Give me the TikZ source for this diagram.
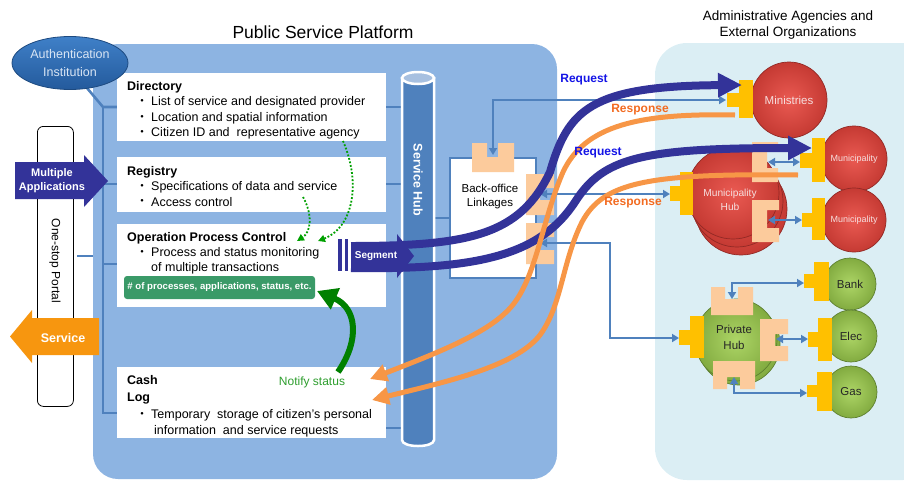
\documentclass[tikz,border=0pt]{standalone}
\usepackage{fontspec}
\setmainfont{Liberation Sans}
\newfontfamily\cjkfont{Noto Sans CJK JP}
\usetikzlibrary{arrows.meta,shapes.geometric}
\definecolor{platbg}{HTML}{8DB4E2}
\definecolor{extbg}{HTML}{DBEEF4}
\definecolor{connblue}{HTML}{4F81BD}
\definecolor{dblue}{HTML}{333399}
\definecolor{orng}{HTML}{F79646}
\definecolor{srvorange}{HTML}{F7960F}
\definecolor{plug}{HTML}{FFC000}
\definecolor{peach}{HTML}{FCCB9C}
\definecolor{reqblue}{HTML}{1414E6}
\definecolor{resporange}{HTML}{F26B21}
\definecolor{gbox}{HTML}{3A9A68}
\definecolor{notifygreen}{HTML}{2E9E2E}
\definecolor{darkgreen}{HTML}{008000}
\definecolor{dotgreen}{HTML}{00A000}
\definecolor{hubblue}{HTML}{4F81BD}
\definecolor{hubtop}{HTML}{A7C0E0}
\definecolor{authtop}{HTML}{3F80C8}
\definecolor{authbot}{HTML}{245A9C}
\definecolor{authrim}{HTML}{1D4A80}
\definecolor{authtext}{HTML}{D9E5F4}
\definecolor{redin}{HTML}{EA5A52}
\definecolor{redout}{HTML}{C53A33}
\definecolor{redrim}{HTML}{922925}
\definecolor{redtext}{HTML}{F6DEDE}
\definecolor{grnin}{HTML}{ADD566}
\definecolor{grnout}{HTML}{82AB40}
\definecolor{grnrim}{HTML}{5E8030}
\begin{document}
\begin{tikzpicture}[x=1pt,y=-1pt,
  conn/.style={draw=connblue, line width=2.6pt},
  link/.style={draw=connblue, line width=2.2pt, arrows={Triangle[length=7pt,width=8pt]-Triangle[length=7pt,width=8pt]}},
  wbox/.style={fill=white, draw=none, anchor=north west, inner sep=0pt, outer sep=0pt},
  txt/.style={anchor=west, inner sep=0pt, font=\fontsize{12.5}{15}\selectfont},
  hdr/.style={anchor=west, inner sep=0pt, font=\bfseries\fontsize{12.5}{15}\selectfont},
  bul/.style={inner sep=0pt, font=\cjkfont\fontsize{12.5}{15}\selectfont},
  redball/.style={circle, inner sep=0pt, shading=radial, inner color=redin, outer color=redout, draw=redrim, line width=0.7pt},
  grnball/.style={circle, inner sep=0pt, shading=radial, inner color=grnin, outer color=grnout, draw=grnrim, line width=0.7pt},
  reqline/.style={draw=dblue, line width=8pt, -{Triangle[length=24pt,width=23pt]}},
  respline/.style={draw=orng, line width=5pt, -{Triangle[length=17pt,width=17pt]}},
  lbl/.style={inner sep=0pt, font=\bfseries\fontsize{12}{14}\selectfont},
  dotarrow/.style={draw=dotgreen, line width=1.8pt, dash pattern=on 1.8pt off 1.8pt, -{Triangle[length=7pt,width=7pt]}},
]
\useasboundingbox (0,0) rectangle (904,480);
% backgrounds
\fill[platbg, rounded corners=25pt] (93,44) rectangle (557,479);
\fill[extbg, rounded corners=32pt] (655,43) rectangle (935,480);
% titles
\node[inner sep=0pt, font=\fontsize{17.5}{20}\selectfont] (ptitle) at (323,32) {Public Service Platform};
\node[inner sep=0pt, align=center, font=\fontsize{13.5}{16}\selectfont] (etitle) at (788,25) {Administrative Agencies and\\External Organizations};

% left connector lines
\coordinate (lv1) at (103,107);
\coordinate (lv2) at (103,413);
\draw[conn] (87,88) -- (lv1) -- (117,107);
\draw[conn] (lv1) -- (lv2) -- (117,413);
\draw[conn] (103,184) -- (117,184);
\draw[conn] (103,264) -- (117,264);
\draw[conn] (77,256) -- (93,256);
% hub ticks
\draw[conn] (386,107) -- (403,107);
\draw[conn] (386,184) -- (403,184);
\draw[conn] (386,428) -- (403,428);
\draw[conn] (433,218) -- (449,218);

% white boxes
\node[wbox, minimum width=269pt, minimum height=68pt] (dir) at (117,73) {};
\node[wbox, minimum width=269pt, minimum height=55pt] (reg) at (117,157) {};
\node[wbox, minimum width=269pt, minimum height=83pt] (opc) at (117,224) {};
\node[wbox, minimum width=269pt, minimum height=71pt] (cash) at (117,367) {};

% Directory text
\node[hdr] (dirh) at (127,87) {Directory};
\node[bul] (b1) at (142,102) {・};
\node[txt] (d1) at (151,102) {List of service and designated provider};
\node[bul] (b2) at (142,118) {・};
\node[txt] (d2) at (151,118) {Location and spatial information};
\node[bul] (b3) at (142,133) {・};
\node[txt] (d3) at (151,133) {Citizen ID and \ representative agency};
% Registry
\node[hdr] (regh) at (127,172) {Registry};
\node[bul] (b4) at (142,187) {・};
\node[txt] (r1) at (151,187) {Specifications of data and service};
\node[bul] (b5) at (142,202) {・};
\node[txt] (r2) at (151,202) {Access control};
% OPC
\node[hdr] (opch) at (127,238) {Operation Process Control};
\node[bul] (b6) at (142,253) {・};
\node[txt] (o1) at (151,253) {Process and status monitoring};
\node[txt] (o2) at (151,268) {of multiple transactions};
\node[fill=gbox, rounded corners=3pt, minimum width=191pt, minimum height=23pt, inner sep=0pt, text=white, font=\bfseries\fontsize{9.6}{11}\selectfont] (gb) at (219.5,287.5) {\# of processes, applications, status, etc.};
% Cash / Log
\node[hdr] (cashh) at (127,380) {Cash};
\node[hdr] (logh) at (127,399) {Log};
\node[bul] (b7) at (142,415) {・};
\node[txt] (l1) at (151,415) {Temporary \ storage of citizen's personal};
\node[txt] (l2) at (154,431) {information \ and service requests};
\node[inner sep=0pt, text=notifygreen, font=\fontsize{12}{14}\selectfont] (notify) at (312,382) {Notify status};

% One-stop portal
\node[draw=black, line width=0.8pt, fill=white, rounded corners=6pt, anchor=north west, minimum width=36pt, minimum height=280pt, inner sep=0pt] (portal) at (37,126) {};
\node[rotate=-90, inner sep=0pt, font=\fontsize{12}{14}\selectfont] (portaltxt) at (55,261) {One-stop Portal};
% Multiple applications arrow
\fill[dblue] (15,162) -- (84,162) -- (84,155) -- (108,181) -- (84,207) -- (84,199) -- (15,199) -- cycle;
\node[inner sep=0pt, align=center, text=white, font=\bfseries\fontsize{11}{14}\selectfont] (multi) at (52,181) {Multiple\\Applications};
% Service arrow
\fill[srvorange] (99,318) -- (32,318) -- (32,310) -- (10,336.5) -- (32,363) -- (32,355) -- (99,355) -- cycle;
\node[inner sep=0pt, text=white, font=\bfseries\fontsize{12.5}{14}\selectfont] (service) at (63,338) {Service};

% Authentication ellipse
\node[ellipse, minimum width=116pt, minimum height=53pt, top color=authtop, bottom color=authbot, draw=authrim, line width=0.8pt, align=center, text=authtext, font=\fontsize{12.5}{18}\selectfont, inner sep=0pt] (auth) at (70,63) {Authentication\\Institution};

% Service hub cylinder
\filldraw[fill=hubblue, draw=white, line width=2.5pt] (402,78) -- (402,440) .. controls (402,448) and (434,448) .. (434,440) -- (434,78) -- cycle;
\filldraw[fill=hubtop, draw=white, line width=2.5pt] (418,78) ellipse [x radius=16, y radius=6];
\node[rotate=-90, inner sep=0pt, text=white, font=\bfseries\fontsize{12.5}{14}\selectfont] (hub) at (418,180) {Service Hub};

% Back-office box
\node[draw=connblue, line width=2pt, fill=white, anchor=north west, minimum width=86pt, minimum height=120pt, inner sep=0pt] (bo) at (449,157) {};
\node[inner sep=0pt, align=center, font=\fontsize{11.5}{14}\selectfont] (botxt) at (490,197) {Back-office\\Linkages};

% thin links from back office
\coordinate (boTop) at (493,155);
\coordinate (minIn) at (726,100);
\draw[link] (boTop) -- (493,100) -- (minIn);
\coordinate (boR1) at (540,194);
\coordinate (mhubIn) at (670,194);
\draw[link] (boR1) -- (mhubIn);
\coordinate (boR2) at (540,243);
\coordinate (phubIn) at (679,338);
\draw[link] (boR2) -- (610,243) -- (610,338) -- (phubIn);

% red circles
\node[redball, minimum size=76pt, text=redtext, font=\fontsize{11.5}{14}\selectfont] (min) at (789,100) {Ministries};
\node[redball, minimum size=92pt] (mh3) at (741,209) {};
\node[redball, minimum size=92pt] (mh2) at (737,201) {};
\node[redball, minimum size=92pt] (mh1) at (733,193) {};
\node[inner sep=0pt, align=center, text=redtext, font=\fontsize{10.2}{14}\selectfont] (mhtxt) at (730,200) {Municipality\\Hub};
\node[redball, minimum size=66pt, text=redtext, font=\fontsize{9}{11}\selectfont] (mun1) at (854,159) {Municipality};
\node[redball, minimum size=64pt, text=redtext, font=\fontsize{9}{11}\selectfont] (mun2) at (854,220) {Municipality};

% green circles
\node[grnball, minimum size=82pt] (ph2) at (739,344) {};
\node[grnball, minimum size=82pt] (ph1) at (736,340) {};
\node[inner sep=0pt, align=center, text=black!85, font=\fontsize{11.5}{16}\selectfont] (phtxt) at (734,337) {Private\\Hub};
\node[grnball, minimum size=52pt, text=black!85, font=\fontsize{11.5}{14}\selectfont] (bank) at (850,284) {Bank};
\node[grnball, minimum size=52pt, text=black!85, font=\fontsize{11.5}{14}\selectfont] (elec) at (851,336) {Elec};
\node[grnball, minimum size=52pt, text=black!85, font=\fontsize{11.5}{14}\selectfont] (gas) at (851,392) {Gas};

% peach sockets
\fill[peach] (472,143) -- (487,143) -- (487,157) -- (498,157) -- (498,143) -- (514,143) -- (514,172) -- (472,172) -- cycle;
\fill[peach] (526,174) -- (554,174) -- (554,188) -- (540,188) -- (540,200) -- (554,200) -- (554,215) -- (526,215) -- cycle;
\fill[peach] (526,223) -- (554,223) -- (554,237) -- (540,237) -- (540,250) -- (554,250) -- (554,264) -- (526,264) -- cycle;
\fill[peach] (752,142) -- (778,142) -- (778,148) -- (767,148) -- (767,168) -- (778,168) -- (778,182) -- (752,182) -- cycle;
\fill[peach] (752,200) -- (779,200) -- (779,210) -- (767,210) -- (767,228) -- (779,228) -- (779,242) -- (752,242) -- cycle;
\fill[peach] (711,287) -- (725,287) -- (725,299) -- (738,299) -- (738,287) -- (753,287) -- (753,315) -- (711,315) -- cycle;
\fill[peach] (760,319) -- (788,319) -- (788,334) -- (775,334) -- (775,346) -- (788,346) -- (788,361) -- (760,361) -- cycle;
\fill[peach] (713,361) -- (755,361) -- (755,389) -- (740,389) -- (740,377) -- (727,377) -- (727,389) -- (713,389) -- cycle;

% yellow plugs
\fill[plug] (739,80) rectangle (753,118); \fill[plug] (727,93) rectangle (739,107);
\fill[plug] (812,138) rectangle (825,182); \fill[plug] (800,153) rectangle (812,168);
\fill[plug] (812,198) rectangle (825,240); \fill[plug] (802,213) rectangle (812,227);
\fill[plug] (680,172) rectangle (693,215); \fill[plug] (670,186) rectangle (680,201);
\fill[plug] (690,316) rectangle (704,358); \fill[plug] (679,330) rectangle (690,345);
\fill[plug] (814,262) rectangle (829,301); \fill[plug] (804,274) rectangle (814,288);
\fill[plug] (818,318) rectangle (832,361); \fill[plug] (808,332) rectangle (818,347);
\fill[plug] (817,372) rectangle (832,411); \fill[plug] (807,385) rectangle (817,397);

% hub-to-member links
\draw[link] (768,162) -- (800,162);
\draw[link] (768,220) -- (802,220);
\draw[link] (732,299) -- (732,283) -- (804,283);
\draw[link] (776,339) -- (808,339);
\draw[link] (734,377) -- (734,393) -- (807,393);

% dotted green arrows
\draw[dotarrow] (343,141) .. controls (362,185) and (352,228) .. (318,241);
\draw[dotarrow] (303,197) .. controls (313,215) and (311,232) .. (297,241);
% notify status arrow
\draw[draw=darkgreen, line width=6pt, -{Triangle[length=20pt,width=22pt]}] (338,372) .. controls (360,340) and (357,308) .. (317,291);

% request curves
\coordinate (seg1) at (351,246);
\coordinate (seg2) at (351,268);
\coordinate (minTip) at (742,85);
\coordinate (munTip) at (812,148);
\draw[reqline] (seg1) .. controls (470,246) and (520,235) .. (550,172) .. controls (568,110) and (590,86) .. (minTip);
\draw[reqline] (seg2) .. controls (480,270) and (540,255) .. (575,202) .. controls (603,158) and (640,148) .. (munTip);
% response curves
\coordinate (minOut) at (735,115);
\coordinate (munOut) at (798,175);
\coordinate (cashIn1) at (370,379);
\coordinate (cashIn2) at (372,400);
\draw[respline] (minOut) .. controls (640,113) and (585,125) .. (563,172) .. controls (543,218) and (537,272) .. (515,302) .. controls (495,330) and (445,350) .. (cashIn1);
\draw[respline] (munOut) .. controls (645,173) and (603,183) .. (582,222) .. controls (562,262) and (562,305) .. (540,335) .. controls (515,367) and (445,382) .. (cashIn2);

% segment arrow
\fill[dblue] (338,239) rectangle (342,271);
\fill[dblue] (345,239) rectangle (348,271);
\fill[dblue] (351,243) -- (397,243) -- (397,234) -- (414,256) -- (397,278) -- (397,269) -- (351,269) -- cycle;
\node[inner sep=0pt, text=white, font=\bfseries\fontsize{10}{12}\selectfont] (seg) at (376,256) {Segment};

% labels
\node[lbl, text=reqblue] (req1) at (584,80) {Request};
\node[lbl, text=resporange] (resp1) at (640,110) {Response};
\node[lbl, text=reqblue] (req2) at (598,153) {Request};
\node[lbl, text=resporange] (resp2) at (633,203) {Response};
\end{tikzpicture}
\end{document}
